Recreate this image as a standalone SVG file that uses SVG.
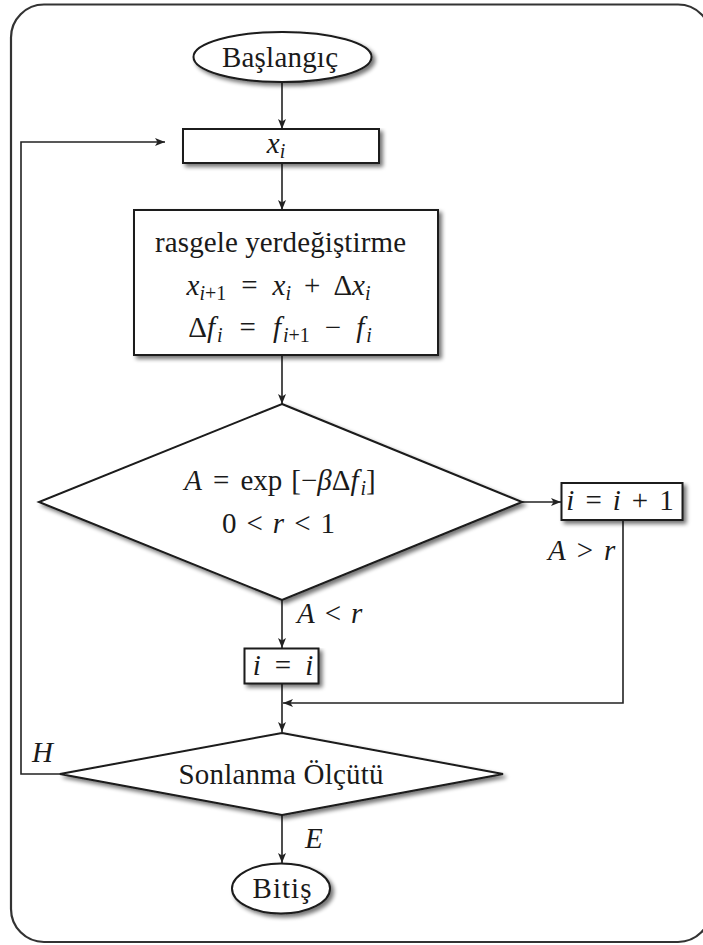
<svg xmlns="http://www.w3.org/2000/svg" width="703" height="945" viewBox="0 0 703 945">
<style>
.t{font-family:"Liberation Serif","DejaVu Serif",serif;font-size:29px;fill:#1a1a1a}
.i{font-style:italic}
.s{font-size:20px}
.node{fill:#fff;stroke:#1a1a1a;stroke-width:2}
.edge{fill:none;stroke:#222;stroke-width:1.6}
</style>
<defs>
<filter id="sh" x="-10%" y="-10%" width="130%" height="140%">
<feGaussianBlur in="SourceAlpha" stdDeviation="2"/>
<feOffset dx="3" dy="3" result="b"/>
<feComponentTransfer><feFuncA type="linear" slope="0.55"/></feComponentTransfer>
<feMerge><feMergeNode/><feMergeNode in="SourceGraphic"/></feMerge>
</filter>
<marker id="ar" viewBox="0 0 10 8" refX="10" refY="4" markerWidth="10" markerHeight="8" markerUnits="userSpaceOnUse" orient="auto">
<path d="M0,0 L10,4 L0,8 L2.5,4 z" fill="#222"/>
</marker>
</defs>
<rect x="11" y="4.5" width="700" height="937.5" rx="33" fill="#fff" stroke="#333" stroke-width="2.2"/>
<g id="connectors">
<path class="edge" d="M282,82 V129" marker-end="url(#ar)"/>
<path class="edge" d="M282,163 V210" marker-end="url(#ar)"/>
<path class="edge" d="M282,355 V404" marker-end="url(#ar)"/>
<path class="edge" d="M522,502 H561" marker-end="url(#ar)"/>
<path class="edge" d="M282,600 V648" marker-end="url(#ar)"/>
<path class="edge" d="M623,520 V703 H283" marker-end="url(#ar)"/>
<path class="edge" d="M282,683 V732" marker-end="url(#ar)"/>
<path class="edge" d="M60,774 H21 V142 H165" marker-end="url(#ar)"/>
<path class="edge" d="M282,815 V863" marker-end="url(#ar)"/>
<text class="t" x="548" y="560"><tspan class="i">A</tspan><tspan dx="11">&gt;</tspan><tspan class="i" dx="11">r</tspan></text>
<text class="t" x="297" y="623"><tspan class="i">A</tspan><tspan dx="10">&lt;</tspan><tspan class="i" dx="10">r</tspan></text>
<text class="t i" x="32" y="762">H</text>
<text class="t i" x="305" y="848">E</text>
</g>
<g id="start">
<ellipse class="node" cx="282.5" cy="57" rx="89" ry="25" filter="url(#sh)"/>
<text class="t" x="280" y="67" text-anchor="middle" textLength="116">Başlangıç</text>
</g>
<g id="xi">
<rect class="node" x="183" y="129" width="196" height="34" filter="url(#sh)"/>
<text class="t" x="276" y="153" text-anchor="middle"><tspan class="i">x</tspan><tspan class="s i" dy="5">i</tspan></text>
</g>
<g id="update">
<rect class="node" x="134" y="210" width="304" height="145" filter="url(#sh)"/>
<text class="t" x="280.5" y="251.5" text-anchor="middle" textLength="251">rasgele yerdeğiştirme</text>
<text class="t" x="278.5" y="295" text-anchor="middle"><tspan class="i">x</tspan><tspan class="s i" dy="5">i</tspan><tspan class="s">+1</tspan><tspan dy="-5" dx="15">=</tspan><tspan class="i" dx="15">x</tspan><tspan class="s i" dy="5">i</tspan><tspan dy="-5" dx="13">+</tspan><tspan dx="13">Δ</tspan><tspan class="i">x</tspan><tspan class="s i" dy="5">i</tspan></text>
<text class="t" x="280" y="337" text-anchor="middle">Δ<tspan class="i">f</tspan><tspan class="s i" dy="5" dx="2">i</tspan><tspan dy="-5" dx="17">=</tspan><tspan class="i" dx="17">f</tspan><tspan class="s i" dy="5" dx="2">i</tspan><tspan class="s">+1</tspan><tspan dy="-5" dx="15">−</tspan><tspan class="i" dx="15">f</tspan><tspan class="s i" dy="5" dx="2">i</tspan></text>
</g>
<g id="accept">
<polygon class="node" points="282,404 522,502 282,600 39,502" filter="url(#sh)"/>
<text class="t" x="280" y="490" text-anchor="middle"><tspan class="i">A</tspan><tspan dx="11">=</tspan><tspan dx="11">exp</tspan><tspan dx="9">[−</tspan><tspan class="i">β</tspan>Δ<tspan class="i">f</tspan><tspan class="s i" dy="5" dx="2">i</tspan><tspan dy="-5">]</tspan></text>
<text class="t" x="278.5" y="533" text-anchor="middle">0<tspan dx="10">&lt;</tspan><tspan class="i" dx="10">r</tspan><tspan dx="10">&lt;</tspan><tspan dx="10">1</tspan></text>
</g>
<g id="inc">
<rect class="node" x="561.5" y="483" width="121" height="37" filter="url(#sh)"/>
<text class="t" x="620" y="510" text-anchor="middle"><tspan class="i">i</tspan><tspan dx="11">=</tspan><tspan class="i" dx="11">i</tspan><tspan dx="11">+</tspan><tspan dx="11">1</tspan></text>
</g>
<g id="keep">
<rect class="node" x="244.5" y="648.5" width="74" height="35" filter="url(#sh)"/>
<text class="t" x="283" y="675" text-anchor="middle"><tspan class="i">i</tspan><tspan dx="14">=</tspan><tspan class="i" dx="14">i</tspan></text>
</g>
<g id="stop">
<polygon class="node" points="282,733 503,774 282,815 60,774" filter="url(#sh)"/>
<text class="t" x="281" y="784" text-anchor="middle" textLength="205">Sonlanma Ölçütü</text>
</g>
<g id="end">
<ellipse class="node" cx="281" cy="888.5" rx="49" ry="25" filter="url(#sh)"/>
<text class="t" x="282" y="898" text-anchor="middle" textLength="59">Bitiş</text>
</g>
</svg>
